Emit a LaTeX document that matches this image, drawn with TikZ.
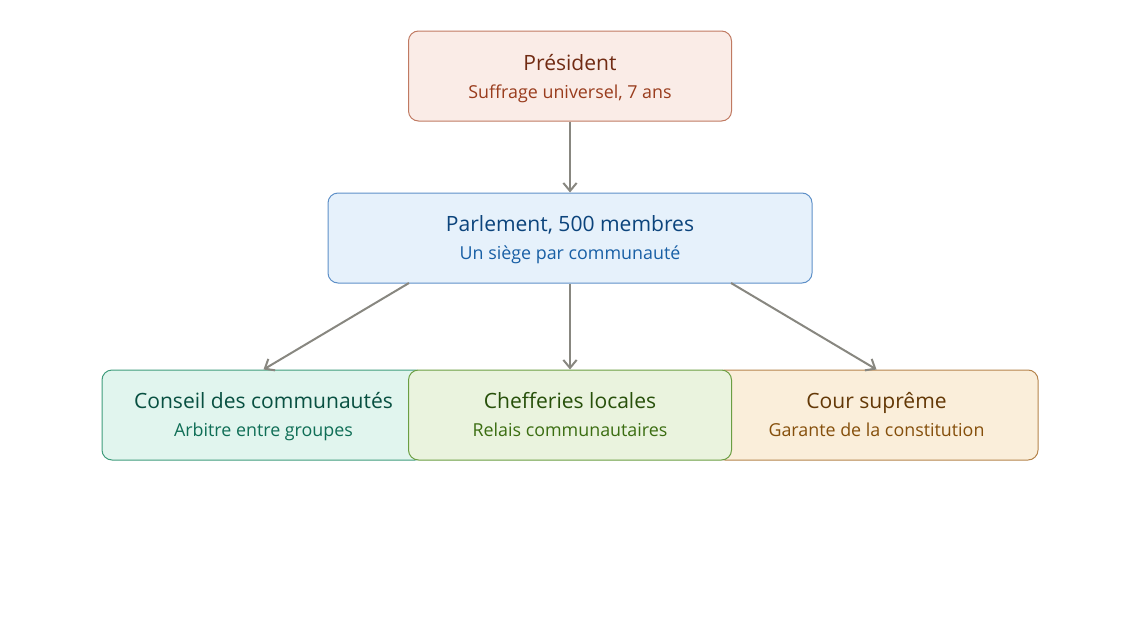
\documentclass[tikz,border=0pt]{standalone}
\usepackage{fontspec}
\setmainfont{Open Sans}
\usetikzlibrary{arrows.meta}
\definecolor{prF}{HTML}{FAECE7}\definecolor{prD}{HTML}{C07A62}\definecolor{prT}{HTML}{712B13}\definecolor{prS}{HTML}{993C1D}
\definecolor{paF}{HTML}{E6F1FB}\definecolor{paD}{HTML}{5E90C8}\definecolor{paT}{HTML}{0C447C}\definecolor{paS}{HTML}{185FA5}
\definecolor{coF}{HTML}{E1F5EE}\definecolor{coD}{HTML}{3F9C7C}\definecolor{coT}{HTML}{085041}\definecolor{coS}{HTML}{0F6E56}
\definecolor{chF}{HTML}{EAF3DE}\definecolor{chD}{HTML}{6B9E42}\definecolor{chT}{HTML}{27500A}\definecolor{chS}{HTML}{3B6D11}
\definecolor{cuF}{HTML}{FAEEDA}\definecolor{cuD}{HTML}{B5844C}\definecolor{cuT}{HTML}{633806}\definecolor{cuS}{HTML}{854F0B}
\definecolor{arr}{HTML}{888780}
\tikzset{
  box/.style={rounded corners=7.5pt, line width=0.75pt, minimum height=67.5pt, inner sep=0pt},
  ttl/.style={font=\fontsize{15.8}{18}\selectfont, anchor=base, inner sep=0pt},
  sub/.style={font=\fontsize{13.4}{15}\selectfont, anchor=base, inner sep=0pt},
  conn/.style={draw=arr, line width=1.5pt, -{Straight Barb[length=6pt,width=10pt,line width=1.5pt]}}
}
\begin{document}
\begin{tikzpicture}[x=0.75pt,y=-0.75pt]
\useasboundingbox (0,0) rectangle (1141,628);
% boxes
\node[box, fill=prF, draw=prD, minimum width=242.25pt] (pres) at (570,76) {};
\node[box, fill=paF, draw=paD, minimum width=363pt] (parl) at (570,238) {};
\node[box, fill=coF, draw=coD, minimum width=242.25pt] (cons) at (263.5,415) {};
\node[box, fill=cuF, draw=cuD, minimum width=242.25pt] (cour) at (876.5,415) {};
\node[box, fill=chF, draw=chD, minimum width=242.25pt] (chef) at (570,415) {};
% texts
\node[ttl, text=prT] (presT) at (570,70) {Président};
\node[sub, text=prS] (presS) at (570,98) {Suffrage universel, 7 ans};
\node[ttl, text=paT] (parlT) at (570,231) {Parlement, 500 membres};
\node[sub, text=paS] (parlS) at (570,259) {Un siège par communauté};
\node[ttl, text=coT] (consT) at (263.5,408) {Conseil des communautés};
\node[sub, text=coS] (consS) at (263.5,436) {Arbitre entre groupes};
\node[ttl, text=chT] (chefT) at (570,408) {Chefferies locales};
\node[sub, text=chS] (chefS) at (570,436) {Relais communautaires};
\node[ttl, text=cuT] (courT) at (876.5,408) {Cour suprême};
\node[sub, text=cuS] (courS) at (876.5,436) {Garante de la constitution};
% connectors
\coordinate (pl) at (409,283);
\coordinate (pr) at (731,283);
\draw[conn] (pres.south) -- (parl.north);
\draw[conn] (pl) -- (cons.north);
\draw[conn] (parl.south) -- (chef.north);
\draw[conn] (pr) -- (cour.north);
\end{tikzpicture}
\end{document}
